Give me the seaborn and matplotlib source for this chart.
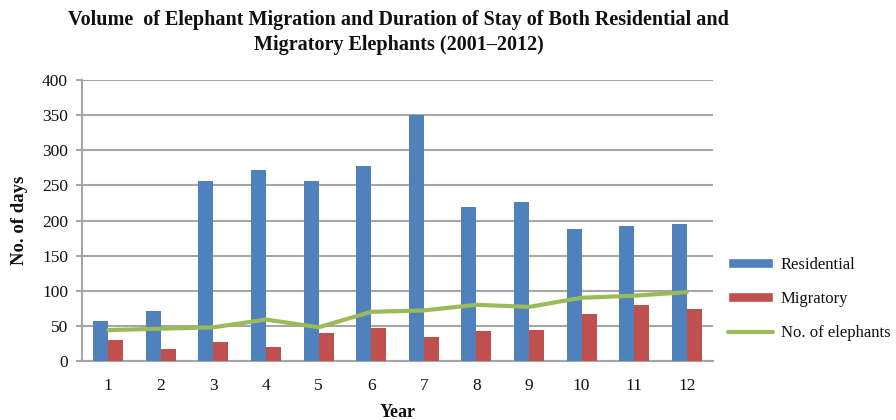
import numpy as np
import pandas as pd
import seaborn as sns
import matplotlib
matplotlib.use("Agg")
import matplotlib.pyplot as plt
from matplotlib.patches import Patch
from matplotlib.lines import Line2D

# Survey years (1 = 2001 ... 12 = 2012)
years = ["1", "2", "3", "4", "5", "6", "7", "8", "9", "10", "11", "12"]
# Duration of stay (days)
residential = [57, 71, 256, 272, 256, 278, 350, 219, 226, 188, 192, 195]
migratory = [30, 17, 27, 20, 40, 47, 34, 43, 44, 67, 80, 74]
# Number of migrating elephants
elephants = [44, 46, 48, 59, 48, 70, 72, 80, 77, 90, 93, 98]

series_names = ["Residential", "Migratory", "No. of elephants"]
colors = {"Residential": "#4f81bd", "Migratory": "#c0504d"}
line_color = "#9bbb59"

sns.set_theme(style="white")
plt.rcParams["font.family"] = ["Liberation Serif", "DejaVu Serif"]
plt.rcParams.update({"text.color": "#111111", "axes.labelcolor": "#111111",
                     "xtick.labelcolor": "#111111",
                     "ytick.labelcolor": "#111111"})

bars = pd.DataFrame({
    "Year": years * 2,
    "Days": residential + migratory,
    "Type": [series_names[0]] * len(years) + [series_names[1]] * len(years),
})
line = pd.DataFrame({"pos": np.arange(len(years)), "count": elephants})

fig = plt.figure(figsize=(8.96, 4.2), dpi=100)
ax = fig.add_axes([82 / 896, 1 - 361 / 420, 631 / 896, 281 / 420])

sns.barplot(data=bars, x="Year", y="Days", hue="Type", order=years,
            palette=colors, width=0.57, gap=0, saturation=1, linewidth=0,
            dodge=True, legend=False, ax=ax, zorder=3)
sns.lineplot(data=line, x="pos", y="count", color=line_color, lw=3,
             ax=ax, zorder=4, legend=False)

ax.set_xlim(-0.5, len(years) - 0.5)
ax.set_ylim(0, 400)
ax.set_yticks(np.arange(0, 401, 50))
ax.yaxis.grid(True, color="#a6a6a6", lw=1.5, zorder=0)
ax.xaxis.grid(False)
ax.set_axisbelow(True)
for side in ["top", "right"]:
    ax.spines[side].set_visible(False)
for side in ["left", "bottom"]:
    ax.spines[side].set_color("#a6a6a6")
    ax.spines[side].set_linewidth(1.5)
ax.tick_params(axis="y", which="major", length=4, width=1.5, color="#a6a6a6",
               labelsize=12.5, pad=6, left=True)
ax.tick_params(axis="x", length=0, labelsize=12.5, pad=12)

ax.set_xlabel("Year", fontsize=13, fontweight="bold")
ax.xaxis.set_label_coords(0.5, -0.152)
ax.xaxis.label.set_va("top")
ax.set_ylabel("No. of days", fontsize=13.5, fontweight="bold", labelpad=10)

fig.text(0.445, 0.975,
         "Volume  of Elephant Migration and Duration of Stay of Both Residential and\n"
         "Migratory Elephants (2001\u20132012)",
         ha="center", va="top", fontsize=14.5, fontweight="bold",
         linespacing=1.3)

handles = [Patch(facecolor=colors["Residential"]),
           Patch(facecolor=colors["Migratory"]),
           Line2D([0], [0], color=line_color, lw=3)]
fig.legend(handles, series_names, loc="upper left",
           bbox_to_anchor=(721 / 896, 1 - 250 / 420), frameon=False,
           fontsize=12, handlelength=2.7, handleheight=0.5,
           labelspacing=1.1, handletextpad=0.5, borderaxespad=0)

fig.savefig("out.png", dpi=100)
